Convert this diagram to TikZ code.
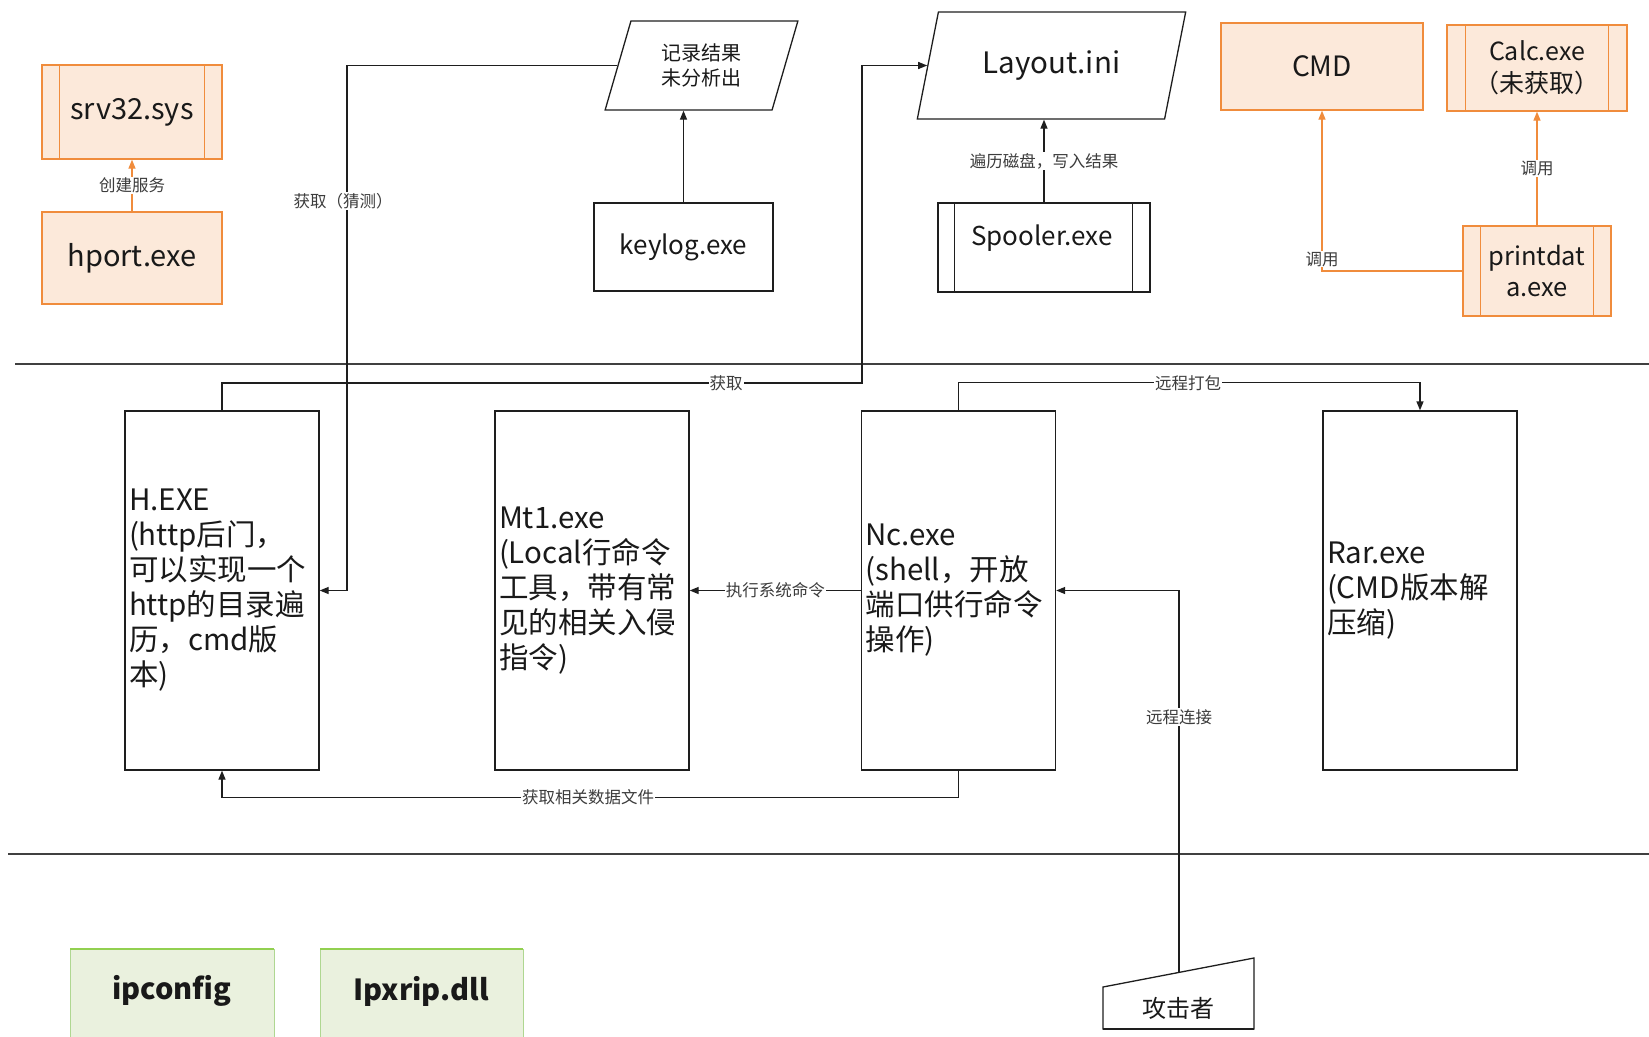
\documentclass[tikz,border=0pt]{standalone}
\usepackage{fontspec}
\setmainfont{Noto Sans CJK SC}
\usetikzlibrary{arrows.meta,shapes.geometric,calc}
\definecolor{orfill}{RGB}{252,233,218}
\definecolor{ordraw}{RGB}{240,140,60}
\definecolor{grfill}{RGB}{234,241,222}
\definecolor{grdraw}{RGB}{175,215,145}
\definecolor{grtop}{RGB}{146,208,80}
\definecolor{txtc}{RGB}{25,25,25}
\definecolor{lblc}{RGB}{60,60,60}
\definecolor{linec}{RGB}{30,30,30}
\newcommand\fsz[2]{\fontsize{#1}{#2}\selectfont}
\begin{document}
\begin{tikzpicture}[x=1pt,y=-1pt,
  obox/.style={draw=ordraw, fill=orfill, line width=1.3pt, inner sep=0pt, text=txtc, align=center},
  pbox/.style={draw=linec, line width=1.3pt, inner sep=0pt, text=txtc, align=center},
  bigbox/.style={draw=linec, line width=1.3pt, minimum width=194pt, minimum height=359pt,
     text width=186pt, inner xsep=4pt, inner ysep=0pt, align=left, font=\fsz{29.5}{35}, text=txtc},
  para/.style={trapezium, trapezium stretches=true, draw=linec, line width=1.3pt, inner sep=0pt, text=txtc, align=center},
  lbl/.style={fill=white, inner sep=1pt, font=\fsz{16.5}{18}, text=lblc},
  arr/.style={-{Triangle[length=9pt,width=7pt]}, line width=1.3pt, draw=linec},
  oarr/.style={-{Triangle[length=9pt,width=7pt]}, line width=1.3pt, draw=ordraw},
  sep/.style={line width=2pt, draw=black!75}
]
\useasboundingbox (0,0) rectangle (1649,1036);

% separators
\draw[sep] (15,364) -- (1649,364);
\draw[sep] (8,854) -- (1649,854);

% top-left orange
\node[obox, minimum width=180pt, minimum height=94pt, font=\fsz{29}{33}] (srv) at (132,112) {srv32.sys};
\draw[ordraw, line width=1.3pt] ([xshift=18pt]srv.north west) -- ([xshift=18pt]srv.south west)
  ([xshift=-18pt]srv.north east) -- ([xshift=-18pt]srv.south east);
\node[obox, minimum width=180pt, minimum height=92pt, font=\fsz{29}{33}] (hport) at (132,258) {hport.exe};
\draw[oarr] (hport.north) -- (srv.south) node[lbl, pos=0.5] {创建服务};

% 记录结果
\node[para, minimum width=193pt, minimum height=89pt, trapezium left angle=71.4, trapezium right angle=108.6,
  font=\fsz{20}{25}] (rec) at (701.5,65.5) {记录结果\\未分析出};
\coordinate (recw) at ($(rec.bottom left corner)!0.5!(rec.top left corner)$);
\node[pbox, minimum width=179pt, minimum height=88pt, font=\fsz{26}{30}] (keylog) at (683.5,247) {keylog.exe};
\draw[arr] (keylog.north) -- (keylog.north |- rec.south);

% Layout.ini
\node[para, minimum width=269pt, minimum height=107pt, trapezium left angle=66.7, trapezium right angle=113.3,
  font=\fsz{29.5}{34}] (lay) at (1051.5,65.5) {Layout.ini};
\coordinate (layw) at ($(lay.bottom left corner)!0.5!(lay.top left corner)$);
\node[pbox, minimum width=212pt, minimum height=89pt] (spool) at (1044,247.5) {};
\node[text=txtc, font=\fsz{26}{30}, inner sep=0pt] (spooltxt) at (1042,238) {Spooler.exe};
\draw[line width=1.3pt, linec] ([xshift=17pt]spool.north west) -- ([xshift=17pt]spool.south west)
  ([xshift=-18pt]spool.north east) -- ([xshift=-18pt]spool.south east);
\draw[arr] (spool.north) -- (spool.north |- lay.south) node[lbl, pos=0.5] {遍历磁盘，写入结果};

% right orange
\node[obox, minimum width=202pt, minimum height=87pt, font=\fsz{28}{32}] (cmd) at (1322,66.5) {CMD};
\node[obox, minimum width=180pt, minimum height=86pt, font=\fsz{25}{32}] (calc) at (1537,68) {Calc.exe\\（未获取）};
\draw[ordraw, line width=1.3pt] ([xshift=19pt]calc.north west) -- ([xshift=19pt]calc.south west)
  ([xshift=-19pt]calc.north east) -- ([xshift=-19pt]calc.south east);
\node[obox, minimum width=148pt, minimum height=90pt, font=\fsz{25.5}{31}] (pd) at (1537,271) {printdat\\a.exe};
\draw[ordraw, line width=1.3pt] ([xshift=18pt]pd.north west) -- ([xshift=18pt]pd.south west)
  ([xshift=-18pt]pd.north east) -- ([xshift=-18pt]pd.south east);
\draw[oarr] (pd.north) -- (calc.south) node[lbl, pos=0.5] {调用};
\draw[oarr] (pd.west) -| (cmd.south);
\node[lbl] (lcall) at (1322,259) {调用};

% big boxes
\node[bigbox] (h) at (222,590.5) {H.EXE\\(http后门，\\可以实现一个\\http的目录遍\\历，cmd版\\本)};
\node[bigbox] (mt) at (592,590.5) {Mt1.exe\\(Local行命令\\工具，带有常\\见的相关入侵\\指令)};
\node[bigbox] (nc) at (958.5,590.5) {Nc.exe\\(shell，开放\\端口供行命令\\操作)};
\node[bigbox] (rar) at (1420,590.5) {Rar.exe\\(CMD版本解\\压缩)};

% connectors
\coordinate (hc) at (347,590.5);
\draw[arr] (recw) -| (hc) -- (h.east);
\node[lbl] at (343,201) {获取（猜测）};

\coordinate (c1) at (862,383);
\draw[arr] (h.north) |- (c1) |- (layw);
\node[lbl] at (726,383) {获取};

\draw[arr] (nc.north) -- ++(0,-28) -| (rar.north);
\node[lbl] at (1188,383) {远程打包};

\draw[arr] (nc.west) -- (mt.east) node[lbl, pos=0.5] {执行系统命令};

\draw[arr] (nc.south) -- ++(0,27) -| (h.south);
\node[lbl] at (588,797) {获取相关数据文件};

% attacker
\draw[line width=1.3pt, linec, fill=white] (1103,1029) -- (1103,987) -- (1254,958) -- (1254,1029) -- cycle;
\draw[line width=2pt, linec] (1103,1029) -- (1254,1029);
\node[text=txtc, font=\fsz{24}{28}, inner sep=0pt] (att) at (1178,1008) {攻击者};
\coordinate (atttop) at (1179,973);
\draw[arr] (atttop) |- (nc.east);
\node[lbl] at (1179,717) {远程连接};

% green boxes
\draw[grdraw, line width=1pt, fill=grfill] (70,949) rectangle (274,1045);
\draw[grtop, line width=2pt] (70,949) -- (274,949);
\node[font=\fsz{29}{33}\bfseries, text=txtc] (ipc) at (172,991) {ipconfig};
\draw[grdraw, line width=1pt, fill=grfill] (320,949) rectangle (523,1045);
\draw[grtop, line width=2pt] (320,949) -- (523,949);
\node[font=\fsz{29}{33}\bfseries, text=txtc] (ipx) at (421,991) {Ipxrip.dll};
\end{tikzpicture}
\end{document}
